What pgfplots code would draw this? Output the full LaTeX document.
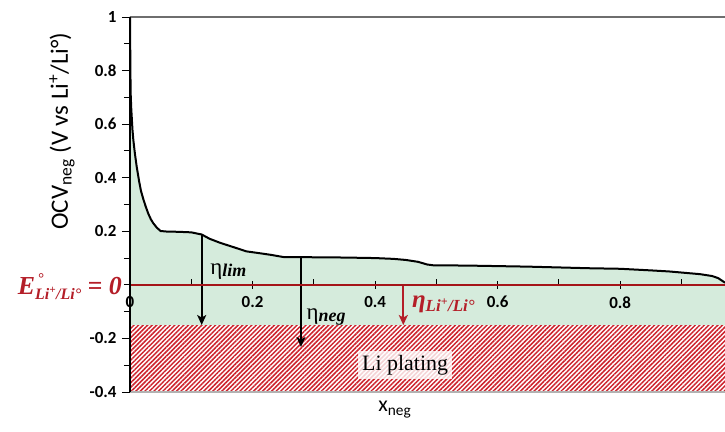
\documentclass[border=0pt]{standalone}
\usepackage{pgfplots}
\usepackage{pgfplotstable}
\pgfplotsset{compat=1.18}
\usepackage{fontspec}
\setmainfont{Carlito}
\newfontfamily\serif{Liberation Serif}
\usetikzlibrary{patterns.meta,arrows.meta}
\definecolor{fillgreen}{RGB}{213,235,220}
\definecolor{hatchred}{RGB}{205,35,45}
\definecolor{zerored}{RGB}{165,20,25}
\definecolor{labred}{RGB}{180,30,40}
\definecolor{topgray}{RGB}{110,110,110}

\pgfplotstableread{
x y
0 1.0
0.0005 0.85
0.001 0.72
0.002 0.66
0.004 0.58
0.0055 0.54
0.008 0.49
0.011 0.44
0.015 0.385
0.018 0.35
0.022 0.318
0.026 0.29
0.030 0.265
0.034 0.245
0.038 0.23
0.044 0.213
0.050 0.201
0.06 0.199
0.08 0.198
0.10 0.196
0.117 0.188
0.13 0.172
0.147 0.157
0.17 0.14
0.19 0.125
0.212 0.118
0.23 0.112
0.25 0.104
0.30 0.103
0.35 0.102
0.40 0.100
0.43 0.097
0.45 0.093
0.47 0.086
0.485 0.076
0.495 0.073
0.55 0.072
0.60 0.070
0.65 0.068
0.70 0.065
0.75 0.062
0.80 0.060
0.85 0.054
0.88 0.050
0.91 0.044
0.93 0.040
0.95 0.033
0.96 0.025
0.971 0.008
}\ocv

\begin{document}
\begin{tikzpicture}
\begin{axis}[
 scale only axis, width=595bp, height=375bp,
 xmin=0, xmax=0.971, ymin=-0.4, ymax=1,
 axis x line*=middle, axis y line*=left,
 axis on top,
 clip=false,
 hide obscured x ticks=false,
 xtick={0,0.2,0.4,0.6,0.8}, xticklabels={0,0.2,0.4,0.6,0.8},
 minor xtick={0.1,0.3,0.5,0.7,0.9},
 ytick={-0.4,-0.2,0.2,0.4,0.6,0.8,1}, yticklabels={-0.4,-0.2,0.2,0.4,0.6,0.8,1},
 minor ytick={-0.3,-0.1,0,0.1,0.3,0.5,0.7,0.9},
 xtick align=center, ytick align=outside,
 major tick length=8bp, minor tick length=6bp,
 minor x tick style={yshift=3bp},
 x axis line style={draw=zerored, line width=2bp},
 y axis line style={draw=black, line width=1.8bp},
 tick style={black, line width=0.9bp},
 tick label style={font=\bfseries\fontsize{17}{19}\selectfont},
 /pgf/number format/assume math mode=true,
 xticklabel style={yshift=-4bp},
 yticklabel style={xshift=-2bp},
 xlabel={x\textsubscript{neg}},
 ylabel={OCV\textsubscript{neg} (V vs Li\textsuperscript{+}/Li°)},
 every axis x label/.style={at={(rel axis cs:0.445,0)}, anchor=north, yshift=-6bp, font=\fontsize{22}{24}\selectfont},
 every axis y label/.style={at={(rel axis cs:-0.087,0.696)}, anchor=south, rotate=90, font=\fontsize{25}{28}\selectfont},
]
\addplot[draw=none, fill=fillgreen] table {\ocv} -- (axis cs:0.971,-0.15) -- (axis cs:0,-0.15) -- cycle;
\addplot[draw=none, pattern={Lines[angle=45,distance=3.2bp,line width=1.5bp]}, pattern color=hatchred] coordinates {(0,-0.4) (0.971,-0.4) (0.971,-0.15) (0,-0.15)} -- cycle;
\addplot[black, line width=2bp] table {\ocv};

\draw[gray!60, line width=1.2bp] (rel axis cs:0,0) -- (rel axis cs:1,0);
\draw[topgray, line width=1.8bp] (rel axis cs:0,1) -- (rel axis cs:1,1);

\draw[-{Stealth[length=10bp,width=9bp,inset=2.5bp]}, line width=1.9bp] (axis cs:0.117,0.188) -- (axis cs:0.117,-0.15);
\draw[-{Stealth[length=10bp,width=9bp,inset=2.5bp]}, line width=1.9bp] (axis cs:0.279,0.103) -- (axis cs:0.279,-0.232);
\draw[-{Stealth[length=10bp,width=9bp,inset=2.5bp]}, line width=1.9bp, labred] (axis cs:0.446,0) -- (axis cs:0.446,-0.15);

\node[anchor=base west, font=\serif\fontsize{23}{25}\selectfont, inner sep=0pt] at (axis cs:0.131,0.037) {η\raisebox{-1.5bp}{\bfseries\itshape\fontsize{18}{20}\selectfont lim}};
\node[anchor=base west, font=\serif\fontsize{23}{25}\selectfont, inner sep=0pt] at (axis cs:0.288,-0.131) {η\raisebox{-1.5bp}{\bfseries\itshape\fontsize{18}{20}\selectfont neg}};
\node[anchor=base west, text=labred, font=\serif\bfseries\itshape\fontsize{25}{27}\selectfont, inner sep=0pt] at (axis cs:0.46,-0.086) {η\raisebox{-4bp}{\fontsize{17}{19}\selectfont Li\textsuperscript{+}/Li°}};
\node[anchor=base east, text=labred, font=\serif\bfseries\itshape\fontsize{26}{28}\selectfont, inner sep=0pt, xshift=-8bp, yshift=-10bp] at (axis cs:0,0) {E\rlap{\raisebox{11bp}{\fontsize{15}{17}\selectfont\,°}}\raisebox{-5bp}{\fontsize{16}{18}\selectfont Li\textsuperscript{+}/Li°} = 0};
\node[fill=white, fill opacity=0.8, text opacity=1, font=\serif\fontsize{22}{24}\selectfont, inner sep=4bp] at (axis cs:0.449,-0.299) {Li plating};

\coordinate (SW) at (rel axis cs:0,0);
\coordinate (NE) at (rel axis cs:1,1);
\end{axis}
\pgfresetboundingbox
\path ([shift={(-130bp,-40bp)}]SW) rectangle ([shift={(0bp,17bp)}]NE);
\end{tikzpicture}
\end{document}
